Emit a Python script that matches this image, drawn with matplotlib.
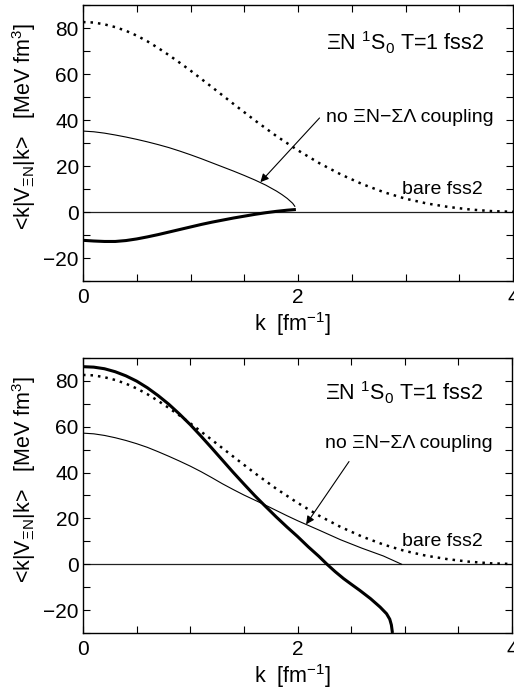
import matplotlib
matplotlib.use("Agg")
import matplotlib.pyplot as plt
from matplotlib.ticker import MultipleLocator

plt.rcParams['font.family'] = ['Liberation Sans', 'DejaVu Sans']
plt.rcParams['mathtext.fontset'] = 'custom'
plt.rcParams['mathtext.rm'] = 'Liberation Sans'
plt.rcParams['mathtext.it'] = 'Liberation Sans:italic'
plt.rcParams['mathtext.bf'] = 'Liberation Sans:bold'

# ---- data ----
k_bare = [0, 0.1, 0.2, 0.3, 0.4, 0.5, 0.6, 0.7, 0.8, 0.9, 1.0, 1.2, 1.4, 1.6, 1.8,
          2.0, 2.2, 2.4, 2.6, 2.8, 3.0, 3.2, 3.4, 3.6, 3.8, 4.0]
v_bare = [82.6, 82.4, 81.6, 80.4, 78.8, 76.7, 74.2, 71.3, 68.2, 64.9, 61.5, 54.3,
          47.0, 39.8, 33.0, 26.8, 21.2, 16.3, 12.1, 8.6, 5.8, 3.7, 2.2, 1.1, 0.4, 0.1]

# top panel
k_top_nocoup = [0, 0.1, 0.2, 0.3, 0.4, 0.5, 0.6, 0.7, 0.8, 0.9, 1.0, 1.1, 1.2, 1.3,
                1.4, 1.5, 1.6, 1.7, 1.8, 1.85, 1.9, 1.95, 1.97]
v_top_nocoup = [35.2, 34.9, 34.3, 33.5, 32.6, 31.6, 30.5, 29.3, 28.0, 26.5, 24.9,
                23.2, 21.4, 19.6, 17.8, 15.9, 13.9, 11.7, 9.1, 7.6, 5.9, 3.8, 2.5]
k_top_full = [0, 0.1, 0.2, 0.3, 0.4, 0.5, 0.6, 0.7, 0.8, 0.9, 1.0, 1.1, 1.2, 1.3,
              1.4, 1.5, 1.6, 1.7, 1.8, 1.9, 1.98]
v_top_full = [-12.3, -12.6, -12.8, -12.8, -12.4, -11.7, -10.8, -9.8, -8.7, -7.6,
              -6.5, -5.4, -4.4, -3.5, -2.6, -1.8, -1.0, -0.3, 0.3, 0.8, 1.1]

# bottom panel
k_bot_nocoup = [0, 0.1, 0.2, 0.3, 0.4, 0.5, 0.6, 0.7, 0.8, 0.9, 1.0, 1.1, 1.2, 1.3,
                1.4, 1.5, 1.6, 1.7, 1.8, 1.9, 2.0, 2.2, 2.4, 2.6, 2.8, 2.97]
v_bot_nocoup = [57.2, 56.9, 56.2, 55.2, 54.0, 52.6, 51.0, 49.1, 47.1, 45.0, 42.8,
                40.4, 37.8, 35.1, 32.6, 30.2, 28.0, 25.8, 23.5, 21.2, 19.0, 14.9,
                10.7, 7.0, 3.6, 0.0]
k_bot_full = [0, 0.1, 0.2, 0.3, 0.4, 0.5, 0.6, 0.7, 0.8, 0.9, 1.0, 1.1, 1.2, 1.3,
              1.4, 1.5, 1.6, 1.7, 1.8, 1.9, 2.0, 2.1, 2.2, 2.27, 2.35, 2.43, 2.5,
              2.58, 2.68, 2.77, 2.83, 2.86, 2.875, 2.885]
v_bot_full = [86.2, 86.0, 85.3, 84.0, 82.2, 79.9, 77.0, 73.6, 69.8, 65.5, 60.9,
              55.9, 50.7, 45.4, 40.1, 35.0, 30.0, 25.3, 20.7, 16.3, 12.1, 7.6, 3.4,
              0.2, -3.2, -6.3, -8.7, -11.4, -15.0, -18.7, -21.6, -24.0, -26.5, -30.0]

title_txt = 'ΞN $^{1}$S$_{0}$ T=1 fss2'
nocoup_txt = 'no ΞN−ΣΛ coupling'
bare_txt = 'bare fss2'
ylab = '<k|V$_{\\mathrm{ΞN}}$|k>   [MeV fm$^{3}$]'
xlab = 'k  [fm$^{-1}$]'

panels = [
    dict(rect=[0.1615, 0.5939, 0.8366, 0.3988], kn=k_top_nocoup, vn=v_top_nocoup,
         kf=k_top_full, vf=v_top_full, arrow_tail=(2.2, 40.9), arrow_head=(1.65, 13.0),
         title_y=73.5, nocoup_y=41.3),
    dict(rect=[0.1615, 0.0853, 0.8347, 0.3974], kn=k_bot_nocoup, vn=v_bot_nocoup,
         kf=k_bot_full, vf=v_bot_full, arrow_tail=(2.48, 44.8), arrow_head=(2.08, 17.4),
         title_y=74.8, nocoup_y=52.6),
]

fig = plt.figure(figsize=(5.14, 6.92), dpi=100)

for p in panels:
    ax = fig.add_axes(p['rect'])
    ax.axhline(0, color='#222222', lw=0.9, zorder=1)
    ax.plot(k_bare, v_bare, color='k', lw=1.8, linestyle=(0, (1, 2.0)),
            dash_capstyle='butt', zorder=3)
    ax.plot(p['kn'], p['vn'], color='k', lw=0.8, zorder=3)
    ax.plot(p['kf'], p['vf'], color='k', lw=2.2, zorder=4, solid_capstyle='butt')

    ax.set_xlim(0, 4)
    ax.set_ylim(-30, 90)
    ax.xaxis.set_major_locator(MultipleLocator(2))
    ax.xaxis.set_minor_locator(MultipleLocator(0.5))
    ax.yaxis.set_major_locator(MultipleLocator(20))
    ax.yaxis.set_minor_locator(MultipleLocator(10))
    ax.tick_params(which='both', direction='in', top=True, right=True,
                   length=5, width=0.8, labelsize=15)
    ax.tick_params(axis='x', pad=5)
    ax.tick_params(axis='y', pad=3)
    for s in ax.spines.values():
        s.set_linewidth(1.0)

    ax.set_xlabel(xlab, fontsize=15.5)
    ax.set_ylabel(ylab, fontsize=15.5)
    ax.yaxis.set_label_coords(-0.105, 0.56)
    ax.xaxis.set_label_coords(0.488, -0.105)

    ax.text(2.26, p['title_y'], title_txt, fontsize=15.5, va='center', ha='left')
    ax.text(2.26, p['nocoup_y'], nocoup_txt, fontsize=14, va='center', ha='left')
    ax.text(2.97, 10.0, bare_txt, fontsize=14, va='center', ha='left')
    ax.annotate('', xy=p['arrow_head'], xytext=p['arrow_tail'],
                arrowprops=dict(arrowstyle='-|>', color='k', lw=0.8,
                                mutation_scale=12, shrinkA=0, shrinkB=0))

fig.savefig('out.png', dpi=100)
